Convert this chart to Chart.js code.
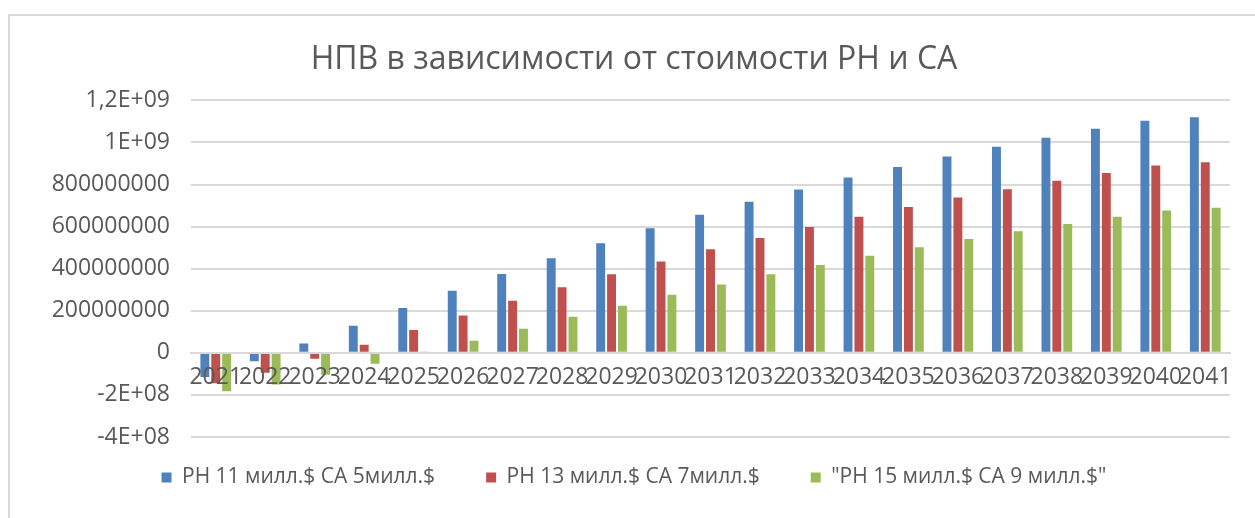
<!DOCTYPE html>
<html>
<head>
<meta charset="utf-8">
<script src="https://cdn.jsdelivr.net/npm/chart.js@4.4.1/dist/chart.umd.min.js"></script>
<style>
    html, body { margin: 0; padding: 0; background: #fff; overflow: hidden; }
    #frame { position: absolute; left: 8px; top: 14px; width: 1260px; height: 510px; border: 2px solid #d9d9d9; box-sizing: border-box; }
    #npvChart { position: absolute; left: 0; top: 0; }
</style>
</head>
<body>
<div id="frame"></div>
<canvas id="npvChart" width="1255" height="518"></canvas>
<script>
const years = ['2021', '2022', '2023', '2024', '2025', '2026', '2027', '2028', '2029', '2030', '2031',
    '2032', '2033', '2034', '2035', '2036', '2037', '2038', '2039', '2040', '2041'];

const npvRh11 = [-115e6, -40e6, 44e6, 129e6, 213e6, 295e6, 375e6, 450e6, 521e6, 592e6, 657e6,
    718e6, 776e6, 833e6, 884e6, 933e6, 980e6, 1023e6, 1065e6, 1103e6, 1120e6];
const npvRh13 = [-145e6, -95e6, -28e6, 38e6, 109e6, 177e6, 248e6, 312e6, 374e6, 434e6, 492e6,
    546e6, 598e6, 647e6, 693e6, 739e6, 778e6, 818e6, 855e6, 890e6, 906e6];
const npvRh15 = [-182e6, -150e6, -104e6, -52e6, 4e6, 58e6, 115e6, 172e6, 224e6, 276e6, 325e6,
    374e6, 418e6, 461e6, 502e6, 541e6, 578e6, 612e6, 647e6, 677e6, 690e6];

const seriesNames = ['РН 11 милл.$ СА 5милл.$', 'РН 13 милл.$ СА 7милл.$', '"РН 15 милл.$ СА 9 милл.$"'];
const yTickLabels = ['-4E+08', '-2E+08', '0', '200000000', '400000000', '600000000', '800000000', '1E+09', '1,2E+09'];

const textColor = '#595959';
const gridColor = '#d9d9d9';

function makeSet(label, data, color) {
    return {
        label: label,
        data: data,
        backgroundColor: color,
        borderWidth: 0,
        categoryPercentage: 0.66,
        barPercentage: 0.82
    };
}

new Chart(document.getElementById('npvChart'), {
    type: 'bar',
    data: {
        labels: years,
        datasets: [
            makeSet(seriesNames[0], npvRh11, '#4f81bd'),
            makeSet(seriesNames[1], npvRh13, '#c0504d'),
            makeSet(seriesNames[2], npvRh15, '#9bbb59')
        ]
    },
    options: {
        responsive: false,
        animation: false,
        layout: {
            padding: { left: 38, right: 25, top: 0, bottom: 20 }
        },
        plugins: {
            title: {
                display: true,
                text: 'НПВ в зависимости от стоимости РН и СА',
                color: textColor,
                font: { family: 'Open Sans', size: 32, weight: 'normal' },
                padding: { top: 41, bottom: 21 }
            },
            legend: {
                position: 'bottom',
                labels: {
                    color: textColor,
                    font: { family: 'Open Sans', size: 21 },
                    boxWidth: 10,
                    boxHeight: 10,
                    padding: 30,
                    generateLabels: function (chart) {
                        const items = Chart.defaults.plugins.legend.labels.generateLabels(chart);
                        // extra gap after the first two entries, like the Excel legend
                        items.forEach((item, i) => {
                            if (i < items.length - 1) item.text += '\u2003';
                        });
                        return items;
                    }
                }
            },
            tooltip: { enabled: false }
        },
        scales: {
            x: {
                position: { y: 0 },
                grid: { display: false },
                // zero line and year labels sit on top of the negative bars
                border: { color: gridColor, width: 2, z: 1 },
                ticks: {
                    z: 1,
                    color: textColor,
                    font: { family: 'Open Sans', size: 23 },
                    autoSkip: false,
                    maxRotation: 0,
                    padding: 3
                }
            },
            y: {
                min: -4e8,
                max: 1.2e9,
                grid: { color: gridColor, lineWidth: 2, drawTicks: false },
                border: { display: false },
                afterFit: function (scale) {
                    scale.width = 153;
                },
                ticks: {
                    stepSize: 2e8,
                    color: textColor,
                    font: { family: 'Open Sans', size: 23 },
                    padding: 21,
                    callback: function (value, index) {
                        return yTickLabels[index];
                    }
                }
            }
        }
    }
});
</script>
</body>
</html>
